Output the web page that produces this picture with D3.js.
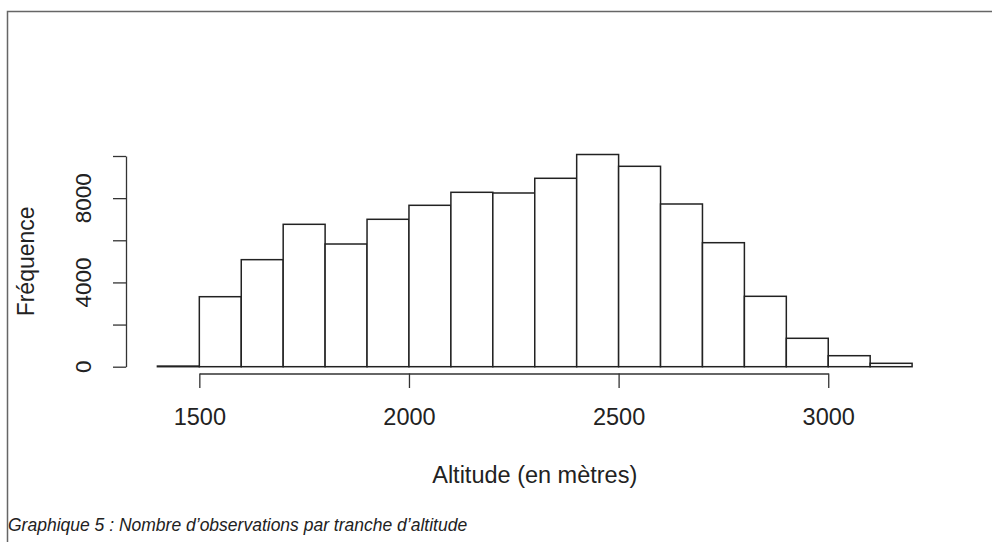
<!DOCTYPE html>
<html><head><meta charset="utf-8">
<script src="https://cdn.jsdelivr.net/npm/d3@7"></script>
<style>body{margin:0;background:#fff}svg{display:block}text{font-family:"Liberation Sans",Arial,sans-serif;fill:#222}</style>
</head><body>
<svg id="c" width="992" height="542"></svg>
<script>
const binStarts = [1400,1500,1600,1700,1800,1900,2000,2100,2200,2300,2400,2500,2600,2700,2800,2900,3000,3100];
const binWidth = 100;
const counts = [30,3322,5080,6758,5823,6996,7660,8277,8244,8942,10071,9511,7722,5885,3341,1348,522,161];
const xTicks = [1500,2000,2500,3000];
const yTicks = [0,2000,4000,6000,8000,10000];
const yTickLabels = [0,4000,8000];
const xTitle = "Altitude (en mètres)";
const yTitle = "Fréquence";
const caption = "Graphique 5 : Nombre d’observations par tranche d’altitude";

const svg = d3.select("#c");
svg.append("rect").attr("width",992).attr("height",542).attr("fill","#fff");
// frame
svg.append("path").attr("d","M7.5,542V11.5H992").attr("fill","none").attr("stroke","#666").attr("stroke-width",1.5);

const x = d3.scaleLinear().domain([1400,3200]).range([157.4,912.1]);
const y = d3.scaleLinear().domain([0,10000]).range([366.7,156]);

// bars
svg.append("g").selectAll("rect").data(binStarts).join("rect")
  .attr("x",(d)=>x(d)).attr("width",(d)=>x(d+binWidth)-x(d))
  .attr("y",(d,i)=>y(counts[i])).attr("height",(d,i)=>y(0)-y(counts[i]))
  .attr("fill","#fff").attr("stroke","#222").attr("stroke-width",1.5);

// x axis
const xa = d3.scaleLinear().domain([xTicks[0],xTicks[xTicks.length-1]]).range([x(xTicks[0]),x(xTicks[xTicks.length-1])]);
const gx = svg.append("g").attr("transform","translate(0,373.5)")
  .call(d3.axisBottom(xa).tickValues(xTicks).tickSize(14.5).tickSizeOuter(0).tickPadding(20).tickFormat(d3.format("d")));
gx.selectAll("path,line").attr("stroke","#333").attr("stroke-width",1.3);
gx.selectAll("text").attr("font-size",23.5).attr("fill","#222").style("font-family","'Liberation Sans',Arial,sans-serif");

// y axis
const gy = svg.append("g").attr("transform","translate(126,0)")
  .call(d3.axisLeft(y).tickValues(yTicks).tickSize(13).tickSizeOuter(0).tickFormat(""));
gy.selectAll("path,line").attr("stroke","#333").attr("stroke-width",1.3);
svg.append("g").selectAll("text").data(yTickLabels).join("text")
  .attr("transform",(d)=>`translate(91,${y(d)}) rotate(-90)`)
  .attr("text-anchor","middle").attr("font-size",22.5).text((d)=>d);

// titles
svg.append("text").attr("x",(x(1400)+x(3200))/2).attr("y",483).attr("text-anchor","middle").attr("font-size",23.5).text(xTitle);
svg.append("text").attr("transform",`translate(34,${(y(0)+y(10000))/2}) rotate(-90)`).attr("text-anchor","middle").attr("font-size",23).text(yTitle);
svg.append("text").attr("x",8).attr("y",531).attr("font-size",17.5).attr("font-style","italic").attr("fill","#000").text(caption);
</script>
</body></html>
